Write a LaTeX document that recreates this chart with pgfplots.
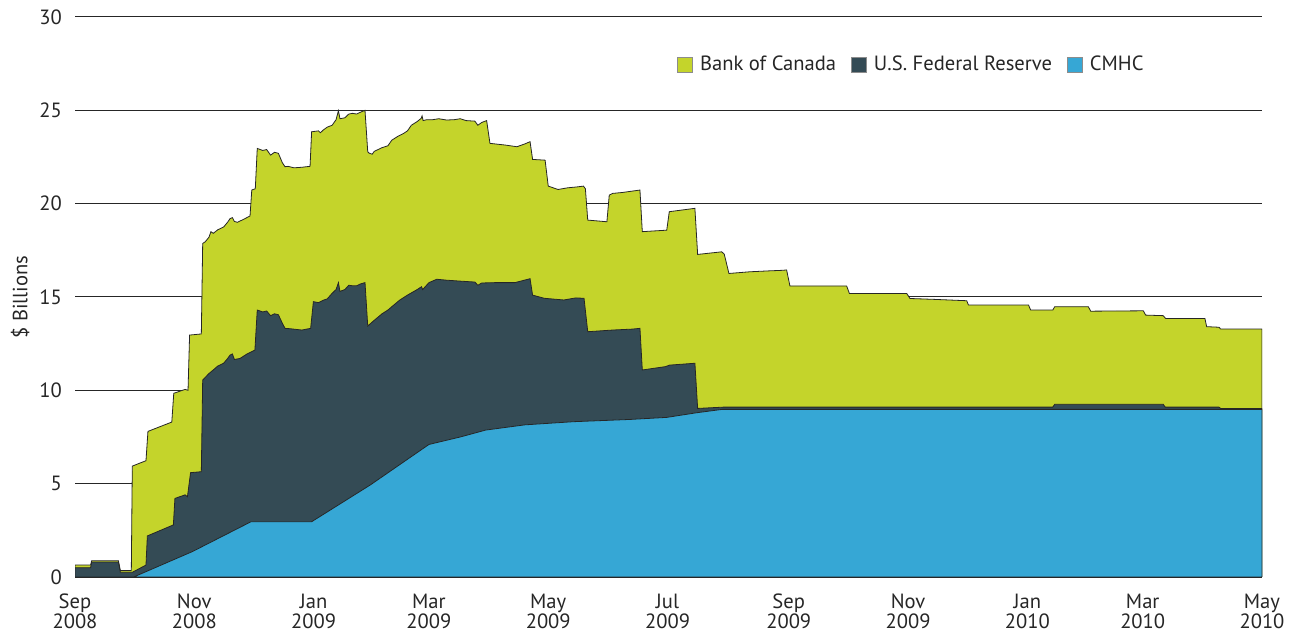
\documentclass[border=0pt]{standalone}
\usepackage{pgfplots}
\pgfplotsset{compat=1.18}
\usepackage{fontspec}
\setmainfont{PT Sans}
\definecolor{boc}{RGB}{196,212,43}
\definecolor{fed}{RGB}{52,75,85}
\definecolor{cmhc}{RGB}{54,167,213}
\begin{document}
\begin{tikzpicture}
\useasboundingbox (0,0) rectangle (650pt,317.5pt);
\begin{axis}[
  at={(37.5pt,29pt)}, anchor=south west,
  width=593.5pt, height=280pt, scale only axis,
  xmin=0, xmax=607, ymin=0, ymax=30,
  axis x line*=bottom, axis y line*=left,
  x axis line style={black!85, line width=0.6pt, -},
  y axis line style={draw=none},
  major tick length=0pt,
  ytick={0,5,10,15,20,25,30},
  xtick={0,61,122,181,242,303,365,426,487,546,607},
  xticklabels={Sep\\2008,Nov\\2008,Jan\\2009,Mar\\2009,May\\2009,Jul\\2009,Sep\\2009,Nov\\2009,Jan\\2010,Mar\\2010,May\\2010},
  xticklabel style={align=center, font=\fontsize{10.3}{9.8}\selectfont, text=black!85, yshift=-5pt},
  yticklabel style={font=\fontsize{10.3}{12}\selectfont, text=black!85, xshift=-3pt},
  /pgf/number format/assume math mode=true,
  ymajorgrids, major grid style={black!85, line width=0.5pt},
  ylabel={\$ Billions},
  ylabel style={at={(axis description cs:-0.0463,0.5)}, anchor=center, font=\fontsize{10.3}{12}\selectfont, text=black!85},
  legend columns=3,
  legend style={draw=none, fill=none, at={(0.909,0.915)}, anchor=east, font=\fontsize{10.3}{12}\selectfont, text=black!85,
    /tikz/every odd column/.style={column sep=1.5pt},
    /tikz/every even column/.style={column sep=5.5pt}},
  legend image code/.code={\draw[#1, draw=black!45, line width=0.4pt] (0pt,-3.75pt) rectangle (7.5pt,3.75pt);},
]
% Total (top of Bank of Canada)
\addplot[fill=boc, draw=black!85, line width=0.4pt] coordinates {
(0,0.64) (8,0.64) (8.5,0.87) (22.2,0.87) (23.2,0.34) (28.8,0.34) (29.3,5.94) (36.3,6.23) (37.3,7.80)
(49.5,8.3) (50.5,9.84) (56.3,10.05) (57.8,10.0) (58.6,12.96) (64.6,13.02) (65.3,17.87)
(66.5,17.95) (68.5,18.2) (69.5,18.5) (70.7,18.41) (73,18.6) (76,18.75) (78,19.0) (79.3,19.2)
(80.5,19.25) (81.5,19.05) (83,19.0) (86,19.15) (89.5,19.34) (90.4,20.73) (92.2,20.8) (93.2,22.96)
(96,22.85) (98,22.9) (100,22.6) (102,22.75) (104,22.7) (106,22.2) (107.4,21.98) (109,22.0)
(112,21.92) (116,21.95) (120.2,22.0) (121,23.85) (124.5,23.9) (125.5,23.8) (127,23.95) (129,24.1)
(131.5,24.2) (133.5,24.5) (134.7,24.98) (135.5,24.55) (138,24.6) (140,24.8) (142,24.84) (144,24.8)
(146,24.9) (148.3,25.0) (149.7,22.78) (150.5,22.7) (152,22.65) (153,22.8) (157,23.0) (160,23.1)
(162,23.4) (165,23.6) (168,23.76) (170,23.9) (172,24.2) (175,24.4) (177,24.57) (177.5,24.7)
(178,24.45) (180,24.5) (183,24.5) (186,24.55) (190,24.48) (194,24.5) (197,24.55) (200,24.45)
(204.5,24.42) (206,24.2) (208,24.35) (210.5,24.45) (212.2,23.23) (220,23.14) (226,23.05) (230,23.2)
(232.7,23.32) (234,22.37) (240.4,22.33) (242,20.94) (247,20.76) (252,20.85) (257,20.9) (260,20.94)
(261,20.8) (262.2,19.12) (272,19.03) (273.2,20.46) (275,20.55) (280,20.6) (288.9,20.73) (290.1,18.5)
(302.6,18.58) (303.9,19.57) (317,19.75) (318.4,17.28) (330.7,17.42) (332,17.3) (334.4,16.26)
(345,16.35) (355,16.4) (362,16.43) (363.9,16.45) (365.6,15.59) (394.6,15.59) (396,15.19)
(425.3,15.19) (427,14.92) (440,14.87) (456,14.80) (456.9,14.57) (487.6,14.57) (488.7,14.30)
(500,14.30) (501,14.48) (518.2,14.48) (519.4,14.24) (546.3,14.26) (547.5,14.03) (556.5,14.0)
(557.7,13.85) (577.8,13.85) (578.7,13.41) (585,13.38) (585.9,13.28) (607,13.28)
} \closedcycle;
\addlegendentry{Bank of Canada}
% CMHC + U.S. Federal Reserve
\addplot[fill=fed, draw=black!85, line width=0.4pt] coordinates {
(0,0.5) (8,0.5) (8.5,0.8) (22.2,0.8) (23.2,0.25) (29.3,0.25) (36.3,0.64) (37,2.2) (50.3,2.79)
(51.1,4.21) (56.3,4.4) (57.5,4.3) (59.1,5.59) (64.6,5.64) (65.3,10.55) (68.5,10.9) (70.7,11.09)
(73,11.3) (76,11.45) (78,11.7) (79.3,11.89) (80.5,11.95) (81.5,11.65) (84.4,11.71) (88,11.95)
(92,12.16) (93.2,14.3) (96,14.2) (98,14.25) (100,14.0) (102,14.1) (104,14.05) (106,13.6)
(107.4,13.32) (110,13.3) (116,13.23) (120.5,13.32) (121.9,14.75) (124.5,14.7) (127,14.83) (129,14.9)
(131.5,15.2) (133.5,15.4) (134.7,15.77) (135.5,15.3) (138,15.4) (140,15.63) (142,15.6) (144,15.6)
(146,15.7) (148.3,15.77) (149.7,13.44) (152,13.66) (157,14.1) (160,14.3) (162,14.48) (166,14.83)
(170,15.1) (172,15.22) (175,15.4) (177.2,15.55) (177.8,15.4) (181,15.77) (185,15.95) (190,15.9)
(197,15.85) (204.5,15.8) (206,15.63) (208,15.75) (215,15.77) (225,15.77) (232.7,15.98) (234,15.1)
(240,14.93) (250,14.84) (256,14.95) (260.3,14.93) (262.2,13.14) (275,13.23) (285,13.28) (288.9,13.32)
(290.1,11.09) (302,11.27) (304,11.35) (317,11.45) (318.4,9.03) (331.6,9.1) (500,9.1) (501,9.25)
(556.5,9.25) (557.5,9.1) (585,9.1) (586,9.02) (607,9.02)
} \closedcycle;
\addlegendentry{U.S. Federal Reserve}
% CMHC
\addplot[fill=cmhc, draw=black!85, line width=0.4pt] coordinates {
(0,0) (30,0) (60,1.36) (90,2.96) (121,2.96) (151,4.93) (181,7.1) (197,7.5) (210,7.87) (230,8.15)
(255,8.32) (283.8,8.44) (302.6,8.55) (318,8.8) (331,8.98) (607,8.98)
} \closedcycle;
\addlegendentry{CMHC}
\end{axis}
\end{tikzpicture}
\end{document}
